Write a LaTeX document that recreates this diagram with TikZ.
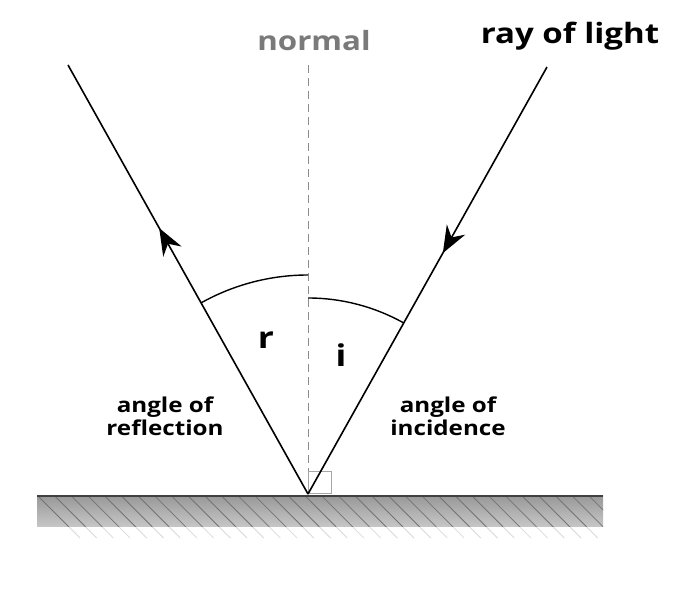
\documentclass[tikz,border=0pt]{standalone}
\usepackage{fontspec}
\setmainfont{Open Sans}[FakeStretch=1.18]
\usetikzlibrary{arrows.meta,decorations.markings}
\tikzset{myhead/.tip={Stealth[length=27pt,width=21pt,inset=9pt]}}
\begin{document}
\begin{tikzpicture}[x=1pt,y=1pt,
  ray/.style={line width=1.6pt,black},
  angarc/.style={line width=1.4pt,black},
  lbl/.style={font=\bfseries\fontsize{20.5}{23}\selectfont,align=center,anchor=base,inner sep=0pt}]
\useasboundingbox (0,0) rectangle (675,602);
% ground band
\shade[top color=black!40,bottom color=black!22] (37,75) rectangle (603,106);
\begin{scope}
  \clip (37,75) rectangle (603,106);
  \foreach \k in {0,...,34} {
    \draw[black!55,line width=0.8pt] ({38+16.7*\k},106) -- ++(31,-31);
  }
\end{scope}
\begin{scope}
  \clip (37,60) rectangle (603,75);
  \foreach \k in {0,...,34} {
    \draw[black!15,line width=0.8pt] ({38+16.7*\k+31},75) -- ++(11,-11);
  }
\end{scope}
\draw[black!75,line width=2pt] (37,106) -- (603,106);
% points
\coordinate (O) at (308,108);
\coordinate (L) at (68,537);
\coordinate (R) at (547,535);
\coordinate (N) at (308,537);
% normal
\draw[black!45,line width=0.9pt,dash pattern=on 8pt off 5pt] (N) -- (O);
% right angle
\draw[black!35,line width=1pt] (O) rectangle ++(23,22);
% rays
\draw[ray,postaction={decorate},decoration={markings,mark=at position 0.62 with {\arrow{myhead}}}] (O) -- (L);
\draw[ray,postaction={decorate},decoration={markings,mark=at position 0.436 with {\arrow{myhead}}}] (R) -- (O);
% arcs
\draw[angarc] (O) ++(90:219) arc[start angle=90,end angle=119.2,radius=219];
\draw[angarc] (O) ++(60.8:196) arc[start angle=60.8,end angle=90,radius=196];
% labels
\node[font=\bfseries\fontsize{26.5}{30}\selectfont,text=black!52,anchor=base,inner sep=0pt] (nl) at (314,551) {normal};
\node[font=\bfseries\fontsize{28}{32}\selectfont,anchor=base,inner sep=0pt] (rl) at (570,558.5) {ray of light};
\node[font=\bfseries\fontsize{30}{34}\selectfont,anchor=base,inner sep=0pt] (rr) at (266,253) {r};
\node[font=\bfseries\fontsize{30}{34}\selectfont,anchor=base,inner sep=0pt] (ii) at (341,235) {i};
\node[lbl] (ar) at (165,166) {angle of\\reflection};
\node[lbl] (ai) at (448,166) {angle of\\incidence};
\end{tikzpicture}
\end{document}
